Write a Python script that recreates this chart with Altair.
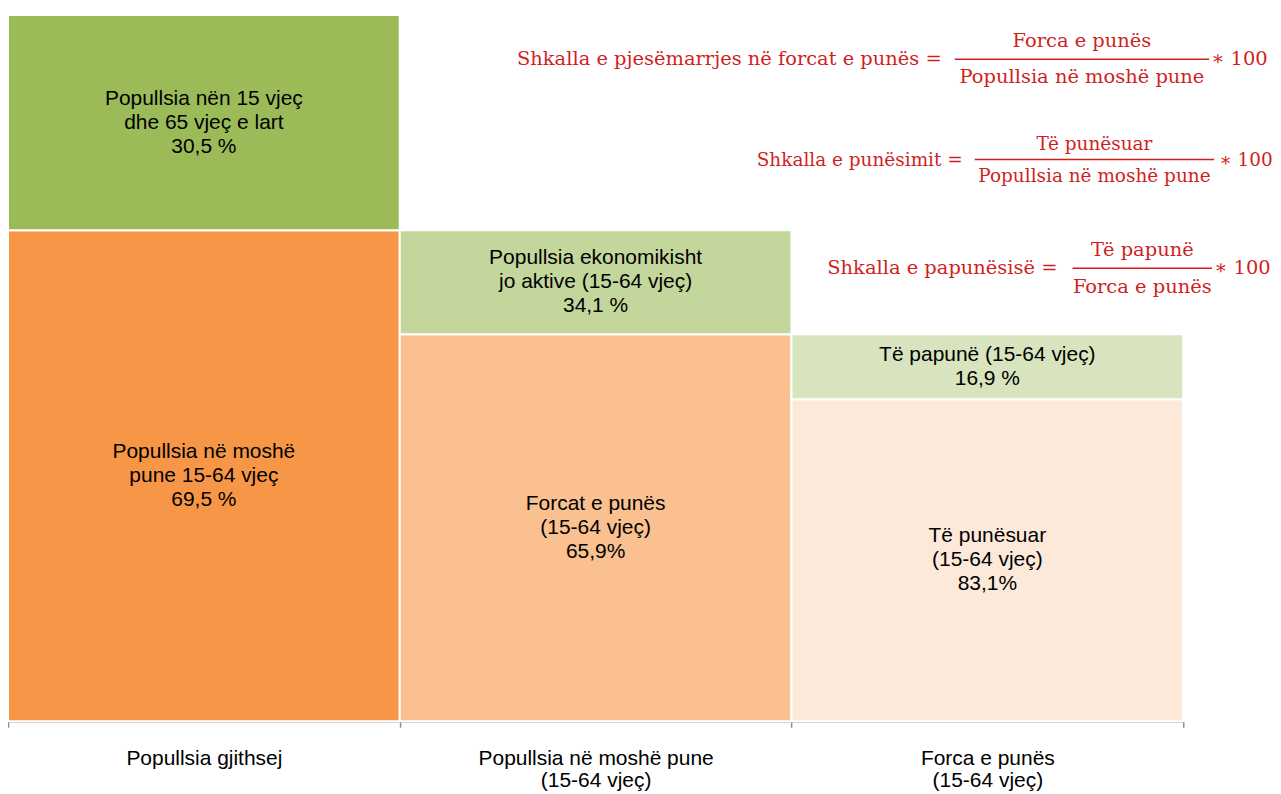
import json
import altair as alt
import pandas as pd

# ---------------- data ----------------
categories = [
    "Popullsia gjithsej",
    "Popullsia në moshë pune\n(15-64 vjeç)",
    "Forca e punës\n(15-64 vjeç)",
]
lower_labels = [
    "Popullsia në moshë\npune 15-64 vjeç\n69,5 %",
    "Forcat e punës\n(15-64 vjeç)\n65,9%",
    "Të punësuar\n(15-64 vjeç)\n83,1%",
]
upper_labels = [
    "Popullsia nën 15 vjeç\ndhe 65 vjeç e lart\n30,5 %",
    "Popullsia ekonomikisht\njo aktive (15-64 vjeç)\n34,1 %",
    "Të papunë (15-64 vjeç)\n16,9 %",
]
# segment heights as drawn (share of the full population column height)
lower_heights = [69.5, 54.8, 45.6]
upper_heights = [30.5, 14.7, 9.2]

lower_colors = ["#F79646", "#FAC090", "#FDE9D9"]
upper_colors = ["#9BBB59", "#C3D69B", "#D7E4BD"]

formula_names = [
    "Shkalla e pjesëmarrjes në forcat e punës =",
    "Shkalla e punësimit =",
    "Shkalla e papunësisë =",
]
formula_numerators = ["Forca e punës", "Të punësuar", "Të papunë"]
formula_denominators = ["Popullsia në moshë pune", "Popullsia në moshë pune", "Forca  e punës"]
formula_factor = "∗ 100"

# ---------------- layout (pixels in plot area) ----------------
W, H = 1178, 708
Y_MAX = 100
TXT_SIZE = 21
TXT_LH = 24
LH_DATA = TXT_LH / H * Y_MAX
F_RED = "#D01F1F"
F_FONT = "DejaVu Serif"
f_size = [19.5, 18.5, 19.5]
f_name_right = [936, 957, 1052]
f_line_x = [(949, 1204), (969, 1209), (1067, 1207)]
f_line_y = [44.5, 145, 254]
f_num_y = [26, 129, 236]
f_den_y = [62, 161, 273]
f_factor_x = [1206, 1214, 1209]

# ---------------- tables ----------------
rows, line_rows = [], []
keys, colors = [], []
for i in range(len(categories)):
    lo, up = lower_heights[i], upper_heights[i]
    for key, y0, y1, lab in ((f"L{i}", 0.0, lo, lower_labels[i]), (f"U{i}", lo, lo + up, upper_labels[i])):
        rows.append(dict(key=key, x0=i, x1=i + 1, y0=y0, y1=y1))
        parts = lab.split("\n")
        for k, p in enumerate(parts):
            line_rows.append(dict(key=key, x0=i, x1=i + 1, y0=y0, y1=y1, k=k, n=len(parts), line=p))
    keys += [f"L{i}", f"U{i}"]
    colors += [lower_colors[i], upper_colors[i]]
df = pd.DataFrame(rows)
df_lines = pd.DataFrame(line_rows)

label_expr = "".join(
    f"datum.value == {i + 0.5} ? {json.dumps(c.split(chr(10)), ensure_ascii=False)} : "
    for i, c in enumerate(categories)
) + "''"

xscale = alt.Scale(domain=[0, len(categories)], nice=False, zero=False)
yscale = alt.Scale(domain=[0, Y_MAX], nice=False)

rects = alt.Chart(df).mark_rect(stroke="white", strokeWidth=2).encode(
    x=alt.X(
        "x0:Q",
        scale=xscale,
        axis=alt.Axis(
            values=[v / 2 for v in range(2 * len(categories) + 1)],
            labelExpr=label_expr,
            title=None,
            grid=False,
            domainColor="#8C8C8C",
            domainWidth=1.5,
            tickColor="#8C8C8C",
            tickWidth=1.5,
            tickSize=6,
            tickOpacity={"condition": {"test": "datum.value % 1 != 0", "value": 0}, "value": 1},
            labelFont="Liberation Sans",
            labelFontSize=TXT_SIZE,
            labelColor="black",
            labelPadding=20,
            labelLineHeight=22,
            labelLimit=600,
            labelFlush=False,
            labelOverlap=False,
        ),
    ),
    x2="x1:Q",
    y=alt.Y("y0:Q", scale=yscale, axis=None),
    y2="y1:Q",
    color=alt.Color("key:N", scale=alt.Scale(domain=keys, range=colors), legend=None),
)

texts = alt.Chart(df_lines).transform_calculate(
    xm="(datum.x0 + datum.x1) / 2",
    ym=f"(datum.y0 + datum.y1) / 2 + ((datum.n - 1) / 2 - datum.k) * {LH_DATA}",
).mark_text(
    font="Liberation Sans", fontSize=TXT_SIZE, color="black",
    align="center", baseline="middle",
).encode(
    x=alt.X("xm:Q", scale=xscale),
    y=alt.Y("ym:Q", scale=yscale),
    text="line:N",
)

layers = [rects, texts]

for i in range(len(formula_names)):
    cx = (f_line_x[i][0] + f_line_x[i][1]) / 2
    layers.append(
        alt.Chart(pd.DataFrame({"t": [formula_names[i]]})).mark_text(
            font=F_FONT, fontSize=f_size[i], color=F_RED, align="right", baseline="middle"
        ).encode(x=alt.value(f_name_right[i]), y=alt.value(f_line_y[i]), text="t:N")
    )
    layers.append(
        alt.Chart(pd.DataFrame({"t": [formula_numerators[i]]})).mark_text(
            font=F_FONT, fontSize=f_size[i], color=F_RED, align="center", baseline="middle"
        ).encode(x=alt.value(cx), y=alt.value(f_num_y[i]), text="t:N")
    )
    layers.append(
        alt.Chart(pd.DataFrame({"t": [formula_denominators[i]]})).mark_text(
            font=F_FONT, fontSize=f_size[i], color=F_RED, align="center", baseline="middle"
        ).encode(x=alt.value(cx), y=alt.value(f_den_y[i]), text="t:N")
    )
    layers.append(
        alt.Chart(pd.DataFrame({"t": [formula_factor]})).mark_text(
            font=F_FONT, fontSize=f_size[i], color=F_RED, align="left", baseline="middle"
        ).encode(x=alt.value(f_factor_x[i]), y=alt.value(f_line_y[i]), text="t:N")
    )
    layers.append(
        alt.Chart(pd.DataFrame({"t": [0]})).mark_rule(color=F_RED, strokeWidth=1.5).encode(
            x=alt.value(f_line_x[i][0]), x2=alt.value(f_line_x[i][1]), y=alt.value(f_line_y[i])
        )
    )

chart = alt.layer(*layers).properties(
    width=W,
    height=H,
    autosize=alt.AutoSizeParams(type="none"),
    padding={"left": 0, "top": 6, "right": 90, "bottom": 70},
).configure_view(stroke=None)

chart.save("out.html", embed_options={"renderer": "svg", "actions": False})
